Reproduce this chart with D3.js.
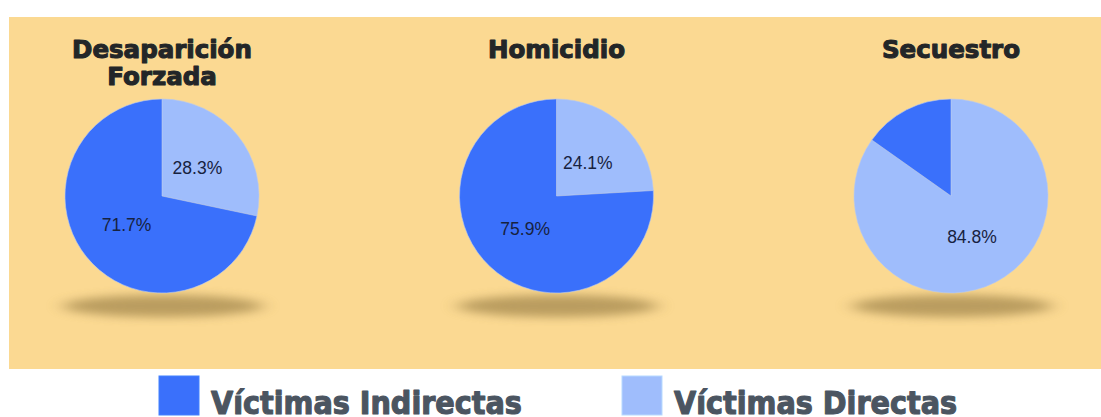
<!DOCTYPE html>
<html>
<head>
<meta charset="utf-8">
<script src="https://cdn.jsdelivr.net/npm/d3@7"></script>
<style>
  html, body { margin: 0; padding: 0; background: #ffffff; }
  svg { display: block; }
</style>
</head>
<body>
<svg id="chart" width="1101" height="417"></svg>
<script>
// Crime categories (one pie each) and the share of each victim type, in %
const crimes = ["Desaparición Forzada", "Homicidio", "Secuestro"];
const titleLines = [["Desaparición", "Forzada"], ["Homicidio"], ["Secuestro"]];
const victimTypes = ["Víctimas Directas", "Víctimas Indirectas"];
const directas = [28.3, 24.1, 84.8];
const indirectas = [71.7, 75.9, 15.2];
// Which slice values get a percentage label (the small slice has none)
const labelShown = [[true, true], [true, true], [true, false]];
const legendOrder = ["Víctimas Indirectas", "Víctimas Directas"];

const W = 1101, H = 417;
const svg = d3.select("#chart");

const color = d3.scaleOrdinal()
  .domain(victimTypes)
  .range(["#9fbdfc", "#3a70fb"]);

// Panel background
const panel = { x: 9, y: 17, w: W - 9, h: 352 };
svg.append("rect")
  .attr("x", panel.x).attr("y", panel.y)
  .attr("width", panel.w).attr("height", panel.h)
  .attr("fill", "#fbd992");

// Soft shadow under each pie
const defs = svg.append("defs");
const blur = defs.append("filter").attr("id", "shadowBlur")
  .attr("x", "-30%").attr("y", "-200%").attr("width", "160%").attr("height", "500%");
blur.append("feGaussianBlur").attr("stdDeviation", "9 5");

const cx = d3.scalePoint().domain(crimes).range([162, 951]);
const cy = 196;
const R = 97;

const pie = d3.pie().sort(null).value(d => d.value);
const arc = d3.arc().innerRadius(0).outerRadius(R);
const labelArc = d3.arc().innerRadius(R * 0.47).outerRadius(R * 0.47);

// Scale a text line's advance width, to imitate a black or condensed face
function fitWidth(sel, ratio) {
  sel.each(function () {
    const w = this.getComputedTextLength();
    d3.select(this).attr("textLength", w * ratio).attr("lengthAdjust", "spacingAndGlyphs");
  });
}

crimes.forEach((crime, i) => {
  const g = svg.append("g").attr("transform", `translate(${cx(crime)},${cy})`);

  g.append("ellipse")
    .attr("cx", 1).attr("cy", 110)
    .attr("rx", 100).attr("ry", 11)
    .attr("fill", "#8f743e")
    .attr("opacity", 0.6)
    .attr("filter", "url(#shadowBlur)");

  const data = [
    { type: victimTypes[0], value: directas[i], show: labelShown[i][0] },
    { type: victimTypes[1], value: indirectas[i], show: labelShown[i][1] }
  ];
  const arcs = pie(data);

  g.selectAll("path.slice").data(arcs).join("path")
    .attr("class", "slice")
    .attr("d", arc)
    .attr("fill", d => color(d.data.type))
    .attr("stroke", "#b9c9ee")
    .attr("stroke-width", 0.6);

  g.selectAll("text.pct").data(arcs.filter(d => d.data.show)).join("text")
    .attr("class", "pct")
    .attr("transform", d => `translate(${labelArc.centroid(d)})`)
    .attr("text-anchor", "middle")
    .attr("dy", "0.36em")
    .attr("font-family", "Arial, 'Liberation Sans', sans-serif")
    .attr("font-size", 17.5)
    .attr("fill", "#17223f")
    .text(d => d.data.value.toFixed(1) + "%");

  // Title above the pie, one text per line
  svg.selectAll(null).data(titleLines[i]).join("text")
    .attr("x", cx(crime))
    .attr("y", (d, k) => 58 + k * 27)
    .attr("text-anchor", "middle")
    .attr("font-family", "'DejaVu Sans', sans-serif")
    .attr("font-weight", 700)
    .attr("font-size", 24.5)
    .attr("fill", "#232628")
    .attr("stroke", "#232628")
    .attr("stroke-width", 1.1)
    .attr("stroke-linejoin", "round")
    .text(d => d)
    .call(fitWidth, 1.0);
});

// Legend below the panel
const legendX = d3.scalePoint().domain(legendOrder).range([159, 622]);
const lg = svg.selectAll("g.legend").data(legendOrder).join("g")
  .attr("class", "legend")
  .attr("transform", d => `translate(${legendX(d)},376)`);
lg.append("rect")
  .attr("width", 40).attr("height", 39)
  .attr("fill", d => color(d))
  .attr("stroke", d => d3.color(color(d)).brighter(0.4))
  .attr("stroke-width", 1);
lg.append("text")
  .attr("x", 52).attr("y", 38)
  .attr("font-family", "'DejaVu Sans', sans-serif")
  .attr("font-weight", 700)
  .attr("font-size", 31.5)
  .attr("fill", "#4b5561")
  .attr("stroke", "#4b5561")
  .attr("stroke-width", 1.2)
  .attr("stroke-linejoin", "round")
  .text(d => d)
  .call(fitWidth, 0.91);
</script>
</body>
</html>
